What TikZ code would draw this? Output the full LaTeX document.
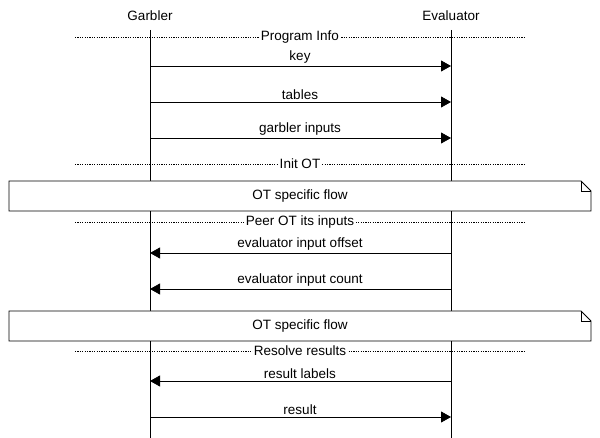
\documentclass[tikz,border=0pt]{standalone}
\usepackage{fontspec}
\setmainfont{Liberation Sans}
\usetikzlibrary{arrows.meta}
\begin{document}
\begin{tikzpicture}[x=1pt,y=-1pt,
  every node/.style={font=\fontsize{13.5}{15}\selectfont},
  life/.style={draw=black,line width=0.8pt},
  msg/.style={draw=black,line width=0.8pt,-{Triangle[length=10pt,width=11pt]}},
  sep/.style={draw=black,dash pattern=on 1.2pt off 1.2pt,line width=0.8pt},
  seplabel/.style={fill=white,inner sep=0.5pt},
  msglabel/.style={inner sep=1pt,anchor=south},
  note/.style={draw=black,fill=white,line width=0.8pt}]
\useasboundingbox (0,0) rectangle (600,438);
% actors
\node (g) at (150,16) {Garbler};
\node (e) at (451,16) {Evaluator};
\coordinate (gt) at (150,30); \coordinate (gb) at (150,438);
\coordinate (et) at (451,30); \coordinate (eb) at (451,438);
\draw[life] (gt) -- (gb);
\draw[life] (et) -- (eb);
% separators
\foreach \y/\t/\n in {37/Program Info/s1,164/Init OT/s2,222/Peer OT its inputs/s3,351/Resolve results/s4}{
  \coordinate (\n l) at (75,\y); \coordinate (\n r) at (525,\y);
  \draw[sep] (\n l) -- (\n r);
  \node[seplabel] (\n) at (300,\y) {\t};
}
% messages
\foreach \y/\t/\n/\d in {66/key/m1/1,102/tables/m2/1,138/garbler inputs/m3/1,253/evaluator input offset/m4/0,289/evaluator input count/m5/0,381/result labels/m6/0,417/result/m7/1}{
  \coordinate (\n g) at (150,\y); \coordinate (\n e) at (451,\y);
  \ifnum\d=1 \draw[msg] (\n g) -- (\n e); \else \draw[msg] (\n e) -- (\n g); \fi
  \node[msglabel] (\n) at (300,\y-1) {\t};
}
% notes
\foreach \y/\n in {181/n1,311/n2}{
  \draw[note] (9,\y) -- (581,\y) -- (591,\y+10) -- (591,\y+30) -- (9,\y+30) -- cycle;
  \draw[line width=0.8pt] (581,\y) -- (581,\y+10) -- (591,\y+10);
  \node (\n) at (300,\y+15) {OT specific flow};
}
\end{tikzpicture}
\end{document}
